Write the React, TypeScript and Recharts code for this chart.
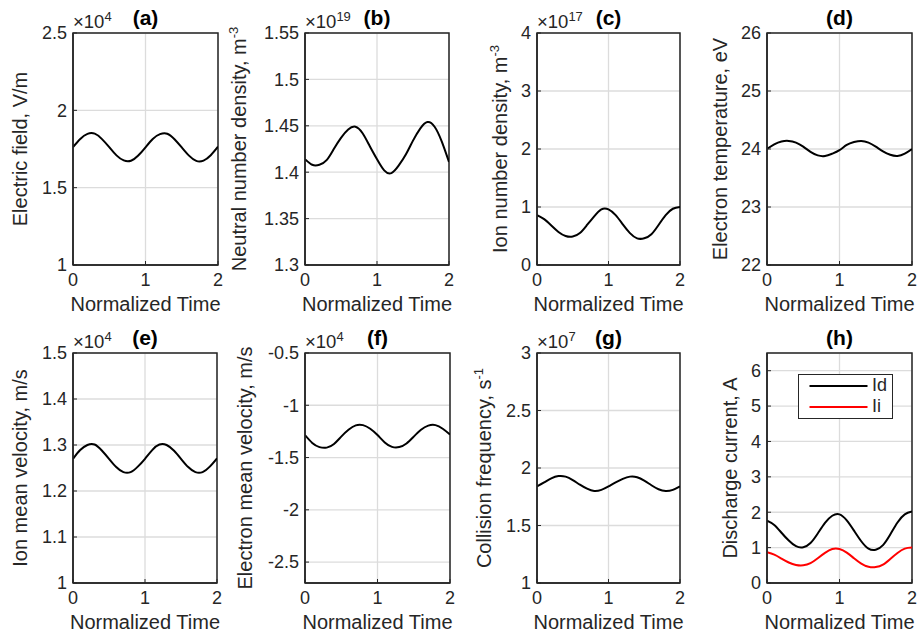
import React from "react";
import { LineChart, Line, XAxis, YAxis, CartesianGrid, Legend, ReferenceArea } from "recharts";

// normalized time, two periods
const time = [0, 0.1, 0.2, 0.3, 0.4, 0.5, 0.6, 0.7, 0.8, 0.9, 1, 1.1, 1.2, 1.3, 1.4, 1.5, 1.6, 1.7, 1.8, 1.9, 2];

// values as shown on the axes (scaled by the x10^n factor)
const electricField = [1.762, 1.815, 1.848, 1.849, 1.814, 1.762, 1.709, 1.676, 1.674, 1.708, 1.761, 1.815, 1.846, 1.849, 1.813, 1.76, 1.707, 1.673, 1.675, 1.71, 1.765];
const neutralDensity = [1.414, 1.408, 1.408, 1.413, 1.425, 1.437, 1.446, 1.449, 1.442, 1.428, 1.414, 1.402, 1.399, 1.407, 1.419, 1.434, 1.447, 1.454, 1.449, 1.433, 1.411];
const ionDensity = [0.86, 0.79, 0.68, 0.57, 0.5, 0.49, 0.55, 0.69, 0.84, 0.96, 0.96, 0.86, 0.7, 0.55, 0.46, 0.46, 0.53, 0.69, 0.86, 0.97, 1.0];
const electronTemp = [24.0, 24.08, 24.13, 24.14, 24.11, 24.04, 23.95, 23.89, 23.88, 23.92, 23.98, 24.07, 24.12, 24.14, 24.11, 24.04, 23.96, 23.9, 23.88, 23.92, 24.0];
const ionVelocity = [1.27, 1.289, 1.3, 1.301, 1.288, 1.27, 1.252, 1.241, 1.241, 1.253, 1.27, 1.289, 1.301, 1.3, 1.288, 1.27, 1.252, 1.241, 1.241, 1.253, 1.271];
const electronVelocity = [-1.285, -1.36, -1.4, -1.405, -1.37, -1.3, -1.235, -1.192, -1.19, -1.225, -1.285, -1.355, -1.398, -1.4, -1.365, -1.3, -1.235, -1.195, -1.19, -1.225, -1.28];
const collisionFreq = [1.84, 1.875, 1.91, 1.93, 1.925, 1.895, 1.855, 1.82, 1.8, 1.81, 1.84, 1.875, 1.905, 1.925, 1.92, 1.89, 1.85, 1.815, 1.8, 1.81, 1.84];
const dischargeCurrent = [1.76, 1.64, 1.42, 1.2, 1.04, 1.01, 1.13, 1.4, 1.7, 1.9, 1.94, 1.77, 1.48, 1.18, 0.97, 0.94, 1.07, 1.37, 1.71, 1.94, 2.02];
const ionCurrent = [0.87, 0.8, 0.69, 0.58, 0.51, 0.5, 0.56, 0.7, 0.85, 0.96, 0.96, 0.86, 0.7, 0.55, 0.46, 0.45, 0.52, 0.68, 0.85, 0.97, 1.0];

const timeTicks = [0, 1, 2];
const ticksA = [1, 1.5, 2, 2.5];
const ticksB = [1.3, 1.35, 1.4, 1.45, 1.5, 1.55];
const ticksC = [0, 1, 2, 3, 4];
const ticksD = [22, 23, 24, 25, 26];
const ticksE = [1, 1.1, 1.2, 1.3, 1.4, 1.5];
const ticksF = [-2.5, -2, -1.5, -1, -0.5];
const ticksG = [1, 1.5, 2, 2.5, 3];
const ticksH = [0, 1, 2, 3, 4, 5, 6];

const FONT = '"Liberation Sans", Arial, Helvetica, sans-serif';
const INK = "#262626";
const GRID = "#dcdcdc";

const ML = 95;
const MT = 33;
const MR = 6;
const MB = 52;

type Series = { key: string; name: string; color: string; values: number[] };

type PanelProps = {
  left: number;
  top: number;
  w: number;
  h: number;
  domain: [number, number];
  ticks: number[];
  series: Series[];
  ylabel: React.ReactNode;
  labelX: number;
  title: string;
  exponent?: string;
  legend?: boolean;
};

function LegendBox(props: any) {
  const payload = props.payload || [];
  return (
    <div
      style={{
        width: 95,
        height: 45,
        boxSizing: "border-box",
        border: `1.5px solid ${INK}`,
        background: "#fff",
        fontFamily: FONT,
      }}
    >
      {payload.map((e: any) => (
        <div key={e.value} style={{ display: "flex", alignItems: "center", height: 21 }}>
          <svg width={69} height={6} style={{ display: "block" }}>
            <line x1={10.5} x2={68.5} y1={3} y2={3} stroke={e.color} strokeWidth={2} />
          </svg>
          <span style={{ fontSize: 18, color: INK, marginLeft: 4, lineHeight: "21px" }}>{e.value}</span>
        </div>
      ))}
    </div>
  );
}

function Panel(p: PanelProps) {
  const data = time.map((t, i) => {
    const row: any = { t };
    p.series.forEach((s) => (row[s.key] = s.values[i]));
    return row;
  });
  const width = ML + p.w + MR;
  const height = MT + p.h + MB;
  const chartLeft = p.left - ML;
  const chartTop = p.top - MT;
  const cx = ML + p.w / 2;
  const lx = p.labelX - chartLeft;

  const titleLabel = () => (
    <g>
      {p.exponent && (
        <text x={ML} y={MT - 5} fill={INK} fontSize={18.5}>
          ×10
          <tspan dy={-7} fontSize={13}>
            {p.exponent}
          </tspan>
        </text>
      )}
      <text x={cx} y={MT - 8} textAnchor="middle" fontWeight="bold" fontSize={21} fill="#000">
        {p.title}
      </text>
    </g>
  );
  const yLabel = () => (
    <text
      transform={`translate(${lx},${MT + p.h / 2}) rotate(-90)`}
      textAnchor="middle"
      fontSize={20}
      fill={INK}
    >
      {p.ylabel}
    </text>
  );
  const xLabel = () => (
    <text x={cx} y={MT + p.h + 46} textAnchor="middle" fontSize={20} fill={INK}>
      Normalized Time
    </text>
  );

  return (
    <div style={{ position: "absolute", left: chartLeft, top: chartTop }}>
      <LineChart width={width} height={height} data={data} margin={{ top: MT - 1, right: MR - 1, bottom: 0, left: 0 }}>
        <CartesianGrid stroke={GRID} strokeWidth={1.3} />
        <XAxis
          dataKey="t"
          type="number"
          domain={[0, 2]}
          ticks={timeTicks}
          interval={0}
          height={MB}
          tickSize={-4}
          tickMargin={12}
          axisLine={{ stroke: INK, strokeWidth: 1.5 }}
          tickLine={{ stroke: INK }}
          tick={{ fill: INK, fontSize: 18 }}
          label={xLabel}
          allowDataOverflow
        />
        <XAxis
          xAxisId="top"
          orientation="top"
          dataKey="t"
          type="number"
          domain={[0, 2]}
          ticks={timeTicks}
          interval={0}
          height={1}
          tickSize={-4}
          tick={false}
          axisLine={false}
          tickLine={{ stroke: INK }}
          allowDataOverflow
        />
        <YAxis
          type="number"
          domain={p.domain}
          ticks={p.ticks}
          interval={0}
          width={ML}
          tickSize={-4}
          tickMargin={10}
          axisLine={{ stroke: INK, strokeWidth: 1.5 }}
          tickLine={{ stroke: INK }}
          tick={{ fill: INK, fontSize: 18 }}
          label={yLabel}
          allowDataOverflow
        />
        <YAxis
          yAxisId="right"
          orientation="right"
          type="number"
          domain={p.domain}
          ticks={p.ticks}
          interval={0}
          width={1}
          tickSize={-4}
          tick={false}
          axisLine={false}
          tickLine={{ stroke: INK }}
          allowDataOverflow
        />
        {p.series.map((s) => (
          <Line
            key={s.key}
            type="natural"
            dataKey={s.key}
            name={s.name}
            stroke={s.color}
            strokeWidth={2}
            dot={false}
            isAnimationActive={false}
          />
        ))}
        <ReferenceArea
          x1={0}
          x2={2}
          y1={p.domain[0]}
          y2={p.domain[1]}
          fill="none"
          fillOpacity={0}
          stroke={INK}
          strokeWidth={1.5}
          ifOverflow="visible"
          label={titleLabel}
        />
        {p.legend && (
          <Legend
            layout="horizontal"
            verticalAlign="middle"
            align="center"
            wrapperStyle={{ left: 798 - chartLeft, top: 374 - chartTop, width: 95, height: 45 }}
            content={LegendBox}
          />
        )}
      </LineChart>
    </div>
  );
}

const sup = (base: string, s: string) => (
  <>
    {base}
    <tspan dy={-8} fontSize={13}>
      {s}
    </tspan>
  </>
);

export default function App() {
  return (
    <div
      style={{
        position: "absolute",
        left: 0,
        top: 0,
        width: 917,
        height: 635,
        overflow: "hidden",
        background: "#fff",
        fontFamily: FONT,
      }}
    >
      <Panel left={73} top={33} w={145} h={232} domain={[1, 2.5]} ticks={ticksA} title="(a)" exponent="4" labelX={27}
        ylabel="Electric field, V/m"
        series={[{ key: "e", name: "E", color: "#000", values: electricField }]} />
      <Panel left={305} top={33} w={144} h={232} domain={[1.3, 1.55]} ticks={ticksB} title="(b)" exponent="19" labelX={246}
        ylabel={sup("Neutral number density, m", "-3")}
        series={[{ key: "nn", name: "nn", color: "#000", values: neutralDensity }]} />
      <Panel left={537} top={33} w={143} h={232} domain={[0, 4]} ticks={ticksC} title="(c)" exponent="17" labelX={507}
        ylabel={sup("Ion number density, m", "-3")}
        series={[{ key: "ni", name: "ni", color: "#000", values: ionDensity }]} />
      <Panel left={767} top={33} w={145} h={232} domain={[22, 26]} ticks={ticksD} title="(d)" labelX={727}
        ylabel="Electron temperature, eV"
        series={[{ key: "te", name: "Te", color: "#000", values: electronTemp }]} />
      <Panel left={73} top={353} w={144} h={230} domain={[1, 1.5]} ticks={ticksE} title="(e)" exponent="4" labelX={27}
        ylabel="Ion mean velocity, m/s"
        series={[{ key: "vi", name: "vi", color: "#000", values: ionVelocity }]} />
      <Panel left={305} top={353} w={145} h={230} domain={[-2.7, -0.5]} ticks={ticksF} title="(f)" exponent="4" labelX={252}
        ylabel="Electron mean velocity, m/s"
        series={[{ key: "ve", name: "ve", color: "#000", values: electronVelocity }]} />
      <Panel left={537} top={353} w={143} h={230} domain={[1, 3]} ticks={ticksG} title="(g)" exponent="7" labelX={491}
        ylabel={sup("Collision frequency, s", "-1")}
        series={[{ key: "nu", name: "nu", color: "#000", values: collisionFreq }]} />
      <Panel left={767} top={353} w={145} h={230} domain={[0, 6.5]} ticks={ticksH} title="(h)" labelX={737} legend
        ylabel="Discharge current, A"
        series={[
          { key: "id", name: "Id", color: "#000", values: dischargeCurrent },
          { key: "ii", name: "Ii", color: "#ff0000", values: ionCurrent },
        ]} />
    </div>
  );
}
